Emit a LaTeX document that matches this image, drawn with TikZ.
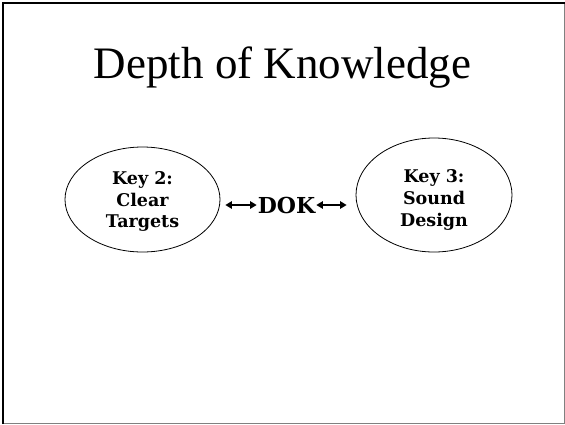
\documentclass[tikz,border=0pt]{standalone}
\usepackage{fontspec}
\setmainfont{Liberation Serif}
\newfontfamily\keyfont{DejaVu Serif}
\usetikzlibrary{arrows.meta,shapes.geometric}

\begin{document}
\begin{tikzpicture}[x=1pt,y=-1pt]
\tikzset{
  keynode/.style={ellipse,draw,line width=0.8pt,inner sep=0pt},
  keytext/.style={align=center,inner sep=0pt,
    font=\keyfont\bfseries\fontsize{17.5}{21.7}\selectfont},
  doknode/.style={inner sep=1pt,font=\keyfont\bfseries\fontsize{22}{24}\selectfont},
  titlenode/.style={font=\fontsize{45}{50}\selectfont,anchor=base},
  twoway/.style={{Triangle[length=6.5pt,width=7.5pt]}-{Triangle[length=6.5pt,width=7.5pt]},line width=1.3pt}
}
\useasboundingbox (0,0) rectangle (565,424);
\draw[gray,line width=1pt] (564.5,2) -- (564.5,423.5) -- (2,423.5);
\draw[black,line width=2pt] (3,424) -- (3,3) -- (565,3);
\node[titlenode] (title) at (282.5,78.5) {Depth of Knowledge};
\node[keynode,minimum width=155pt,minimum height=105pt] (key2) at (142.5,199.5) {};
\node[keytext] (key2text) at ([yshift=-2pt]key2.center) {Key 2:\\Clear\\Targets};
\node[keynode,minimum width=156pt,minimum height=114pt] (key3) at (434,195) {};
\node[keytext] (key3text) at ([yshift=-5pt]key3.center) {Key 3:\\Sound\\Design};
\node[doknode] (dok) at (286.5,205) {DOK};
\draw[twoway,shorten <=5pt] (key2.east |- dok.west) -- (dok.west);
\draw[twoway,shorten >=9pt] (dok.east) -- (key3.west |- dok.east);
\end{tikzpicture}
\end{document}
